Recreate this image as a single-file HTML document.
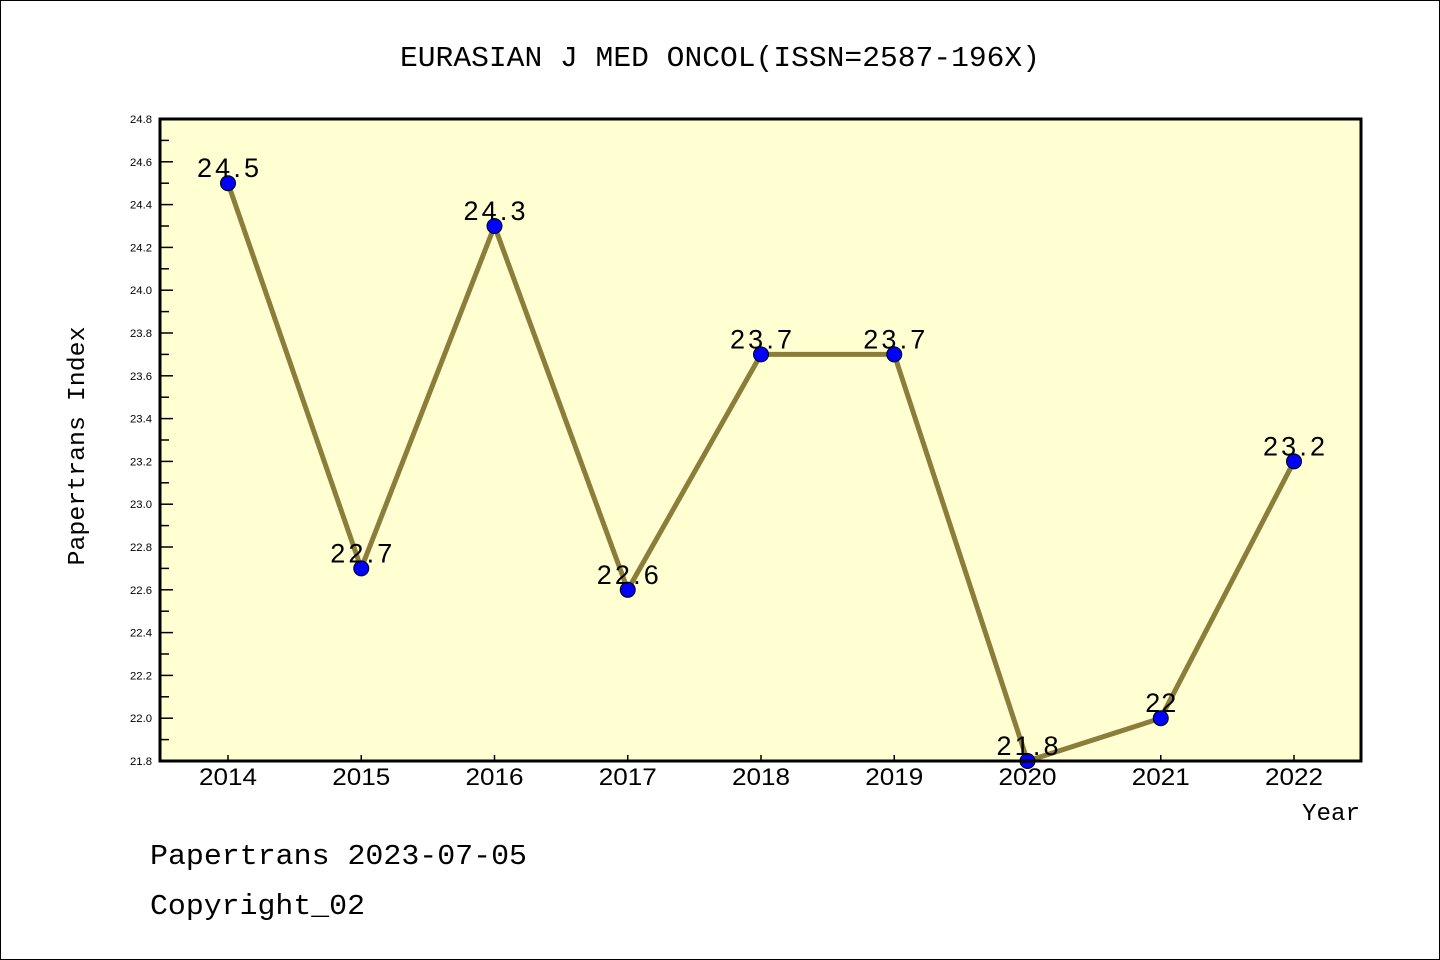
<!DOCTYPE html>
<html><head><meta charset="utf-8"><style>body{margin:0;background:#fff}svg{display:block}text{font-family:"Liberation Mono","Noto Sans CJK SC",monospace;fill:#000}</style></head>
<body>
<svg id="chart" width="1440" height="960">
<rect x="0.5" y="0.5" width="1439" height="959" fill="#fff" stroke="#000"/>
<text x="720" y="66" text-anchor="middle" font-size="29" textLength="640" lengthAdjust="spacingAndGlyphs">EURASIAN J MED ONCOL(ISSN=2587-196X)</text>
<rect x="160" y="119" width="1201" height="642" fill="#ffffd2"/>
<g id="yaxis"></g><g id="xaxis"></g><g id="series"></g>
<rect x="160" y="119" width="1201" height="642" fill="none" stroke="#000" stroke-width="3"/>
<text transform="translate(84,446) rotate(-90)" text-anchor="middle" font-size="24" textLength="239" lengthAdjust="spacingAndGlyphs">Papertrans Index</text>
<text x="1360" y="820" text-anchor="end" font-size="24" textLength="58" lengthAdjust="spacingAndGlyphs">Year</text>
<text x="150" y="864" font-size="29" textLength="377" lengthAdjust="spacingAndGlyphs">Papertrans 2023-07-05</text>
<text x="150" y="914" font-size="29" textLength="215" lengthAdjust="spacingAndGlyphs">Copyright_02</text>
</svg>
<script>
const years=["2014","2015","2016","2017","2018","2019","2020","2021","2022"];
const values=[24.5,22.7,24.3,22.6,23.7,23.7,21.8,22.0,23.2];
const valueLabels=["24.5","22.7","24.3","22.6","23.7","23.7","21.8","22","23.2"];
const yTicks=["21.8","22.0","22.2","22.4","22.6","22.8","23.0","23.2","23.4","23.6","23.8","24.0","24.2","24.4","24.6","24.8"];
const yMin=21.8,yMax=24.8;
const NS="http://www.w3.org/2000/svg";
const X=i=>228+i*(1294-228)/(years.length-1);
const Y=v=>761-(v-yMin)/(yMax-yMin)*642;
function mk(tag,attrs,parent,txt){const e=document.createElementNS(NS,tag);for(const k in attrs)e.setAttribute(k,attrs[k]);if(txt!==undefined)e.textContent=txt;parent.appendChild(e);return e;}
const ya=document.getElementById('yaxis'),xa=document.getElementById('xaxis'),se=document.getElementById('series');
yTicks.forEach(t=>{const v=parseFloat(t),y=Y(v);
 const l=mk('line',{x1:160,x2:173,y1:y,y2:y,stroke:'#000','stroke-width':1.5},ya);
 
 
 const tx=mk('text',{x:152,y:y+4,'text-anchor':'end','font-size':11,textLength:22,lengthAdjust:'spacingAndGlyphs',style:'font-family:"Liberation Sans",sans-serif'},ya,t);
 
 
 if(v<yMax-0.01){const ym=Y(v+0.1);const m=mk('line',{x1:160,x2:169,y1:ym,y2:ym,stroke:'#000','stroke-width':1.5},ya);
 
 }
});
years.forEach((yr,i)=>{const x=X(i);
 const l=mk('line',{x1:x,x2:x,y1:761,y2:755,stroke:'#000','stroke-width':1.5},xa);
 
 
 const t=mk('text',{x:x,y:785,'text-anchor':'middle','font-size':24,textLength:58,lengthAdjust:'spacingAndGlyphs',style:'font-family:"Liberation Sans",sans-serif'},xa,yr);
 
 
});
const pl=mk('polyline',{points:values.map((v,i)=>X(i)+','+Y(v)).join(' '),fill:'none',stroke:'#8b7d3a','stroke-width':5},se);


values.forEach((v,i)=>{
 const c=mk('circle',{cx:X(i),cy:Y(v),r:7.5,fill:'#0000ff',stroke:'#000','stroke-width':1},se);
 
 
 const lab=valueLabels[i];
 const t=mk('text',{x:X(i),y:Y(v)-6,'text-anchor':'middle','font-size':27,textLength:lab.length*15.5,lengthAdjust:'spacing',style:'font-family:"Liberation Sans",sans-serif'},se,lab);
 
 
});
</script>
</body></html>
